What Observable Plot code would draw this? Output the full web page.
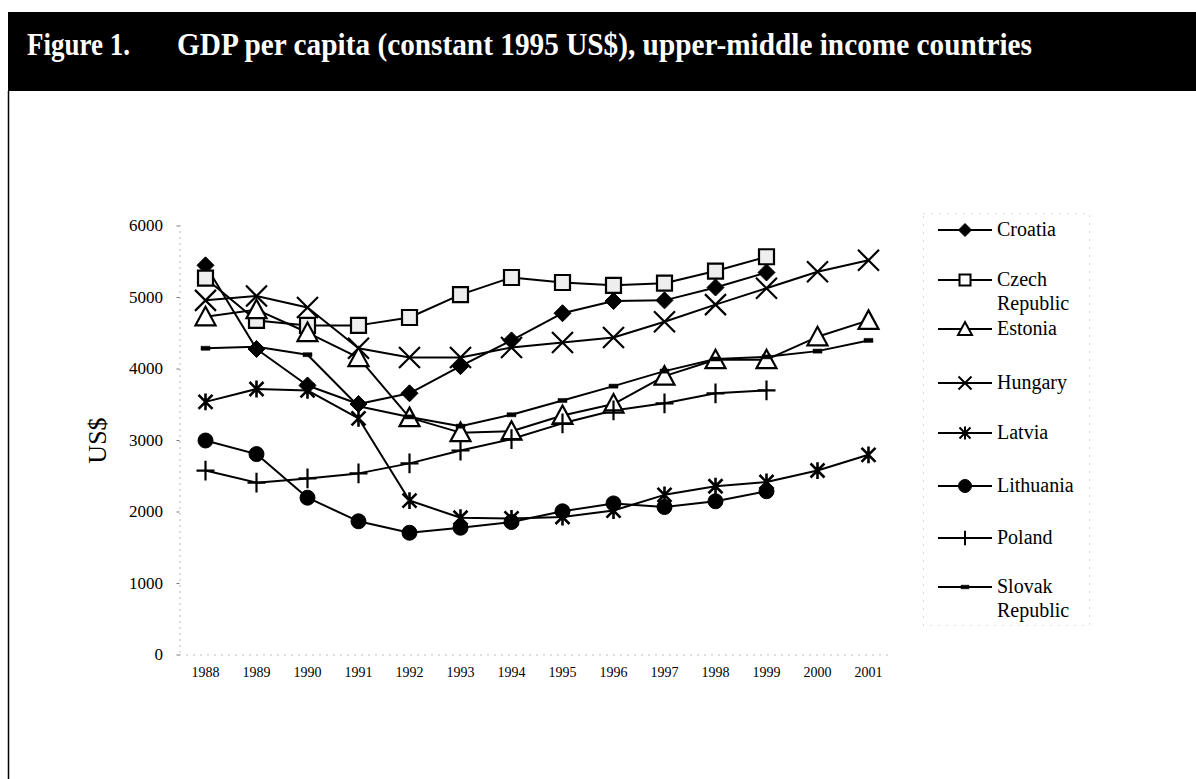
<!DOCTYPE html>
<html><head><meta charset="utf-8">
<script src="https://cdn.jsdelivr.net/npm/d3@7"></script>
<script src="https://cdn.jsdelivr.net/npm/@observablehq/plot@0.6"></script>
<style>
body{margin:0;background:#fff;}
#page{position:relative;width:1196px;height:779px;overflow:hidden;background:#fff;font-family:"Liberation Serif","Times New Roman",serif;}
#page svg{position:absolute;}
</style></head><body><div id="page"></div>
<script>
// ---- data ----
const years = [1988,1989,1990,1991,1992,1993,1994,1995,1996,1997,1998,1999,2000,2001];
const yTicks = [0,1000,2000,3000,4000,5000,6000];
const countries = ["Croatia","Czech Republic","Estonia","Hungary","Latvia","Lithuania","Poland","Slovak Republic"];
const legendLabels = [["Croatia"],["Czech","Republic"],["Estonia"],["Hungary"],["Latvia"],["Lithuania"],["Poland"],["Slovak","Republic"]];
const croatia   = [5450,4280,3770,3510,3660,4040,4400,4780,4950,4960,5140,5350,null,null];
const czech     = [5270,4680,4610,4610,4720,5040,5280,5210,5170,5200,5370,5570,null,null];
const estonia   = [4730,4830,4510,4160,3320,3110,3130,3350,3510,3900,4130,4130,4450,4680];
const hungary   = [4960,5020,4860,4290,4160,4160,4300,4370,4440,4660,4900,5130,5360,5520];
const latvia    = [3540,3720,3700,3310,2160,1920,1910,1930,2020,2240,2360,2420,2580,2800];
const lithuania = [3000,2810,2200,1870,1710,1780,1860,2010,2120,2070,2150,2290,null,null];
const poland    = [2580,2410,2470,2540,2680,2860,3020,3240,3420,3520,3660,3700,null,null];
const slovak    = [4290,4310,4200,3480,3330,3200,3360,3560,3760,3970,4140,4170,4250,4400];
const series = [croatia,czech,estonia,hungary,latvia,lithuania,poland,slovak];

const rows = [];
countries.forEach((c,i)=>series[i].forEach((v,j)=>{ if(v!=null) rows.push({country:c, year:years[j], value:v}); }));

// ---- marker shapes (Excel-like) ----
const R = s => Math.sqrt(s/Math.PI);
const symDiamond = {draw(c,s){const r=R(s);c.moveTo(0,-r);c.lineTo(r,0);c.lineTo(0,r);c.lineTo(-r,0);c.closePath();}};
const symSquare  = {draw(c,s){const r=R(s);c.rect(-r,-r,2*r,2*r);}};
const symTri     = {draw(c,s){const r=R(s);c.moveTo(0,-r);c.lineTo(r,r*0.85);c.lineTo(-r,r*0.85);c.closePath();}};
const symTimes   = {draw(c,s){const r=R(s);c.moveTo(-r,-r);c.lineTo(r,r);c.moveTo(-r,r);c.lineTo(r,-r);}};
const symAster   = {draw(c,s){const r=R(s);c.moveTo(-r,-r);c.lineTo(r,r);c.moveTo(-r,r);c.lineTo(r,-r);c.moveTo(0,-r*1.2);c.lineTo(0,r*1.2);}};
const symCircle  = {draw(c,s){const r=R(s);c.moveTo(r,0);c.arc(0,0,r,0,2*Math.PI);c.closePath();}};
const symPlus    = {draw(c,s){const r=R(s);c.moveTo(0,-r*1.1);c.lineTo(0,r*1.1);c.moveTo(-r,0);c.lineTo(r,0);}};
const symDash    = {draw(c,s){const r=R(s);c.rect(-r,-r*0.45,2*r,r*0.9);}};

const styles = {
  "Croatia":         {symbol:symDiamond, r:8.5, fill:"black", stroke:"black", strokeWidth:1, lr:6.5},
  "Czech Republic":  {symbol:symSquare,  r:7.5, fill:"#eeeeee", stroke:"black", strokeWidth:2.2, lr:5.5},
  "Estonia":         {symbol:symTri,     r:10,  fill:"white", stroke:"black", strokeWidth:2.2, lr:7},
  "Hungary":         {symbol:symTimes,   r:10.5,fill:"none",  stroke:"black", strokeWidth:2.2, lr:6.5},
  "Latvia":          {symbol:symAster,   r:7,   fill:"none",  stroke:"black", strokeWidth:2.6, lr:5.5},
  "Lithuania":       {symbol:symCircle,  r:7.5, fill:"black", stroke:"black", strokeWidth:1, lr:6.5},
  "Poland":          {symbol:symPlus,    r:9,   fill:"none",  stroke:"black", strokeWidth:2.2, lr:6.5},
  "Slovak Republic": {symbol:symDash,    r:4.5, fill:"black", stroke:"black", strokeWidth:0.5, lr:4}
};

const page = document.getElementById("page");

// ---- title band ----
const head = d3.select(page).append("svg").attr("width",1196).attr("height",779).style("left","0px").style("top","0px");
head.append("rect").attr("x",8).attr("y",12).attr("width",1188).attr("height",79).attr("fill","black");
head.append("line").attr("x1",8.5).attr("x2",8.5).attr("y1",91).attr("y2",779).attr("stroke","black").attr("stroke-width",1.5);
const tfont = {"font-family":"Liberation Serif, Times New Roman, serif","font-weight":"bold","font-size":31,"fill":"white","lengthAdjust":"spacingAndGlyphs"};
const t1 = head.append("text").attr("x",27).attr("y",55).attr("textLength",103).text("Figure 1.");
const t2 = head.append("text").attr("x",177).attr("y",55).attr("textLength",855).text("GDP per capita (constant 1995 US$), upper-middle income countries");
for (const t of [t1,t2]) for (const k in tfont) t.attr(k,tfont[k]);

// ---- chart ----
const marks = [
  Plot.ruleX([1987.5], {stroke:"#777", strokeDasharray:"1,5"}),
  Plot.ruleY([0], {stroke:"#777", strokeDasharray:"1,6"}),
  Plot.axisY({ticks:yTicks, tickSize:3, tickPadding:14, fontSize:17, label:null, stroke:"#777", tickFormat:d=>String(d)}),
  Plot.axisX({ticks:years, tickSize:0, tickPadding:12, fontSize:14, label:null, tickFormat:d=>String(d)}),
  Plot.text(["US$"], {text:d=>d, frameAnchor:"left", textAnchor:"middle", dx:-82, rotate:-90, fontSize:26}),
  Plot.line(rows, {x:"year", y:"value", z:"country", stroke:"black", strokeWidth:2})
];
countries.forEach(c=>{
  const st = styles[c];
  marks.push(Plot.dot(rows.filter(d=>d.country===c), {x:"year", y:"value", symbol:st.symbol, r:st.r, fill:st.fill, stroke:st.stroke, strokeWidth:st.strokeWidth}));
});
const chart = Plot.plot({
  width:1196, height:679,
  marginLeft:179.5, marginRight:302.5, marginTop:125.5, marginBottom:124.5,
  x:{domain:[1987.5,2001.5]},
  y:{domain:[0,6000]},
  style:{fontFamily:"Liberation Serif, Times New Roman, serif", background:"transparent", color:"black", overflow:"visible"},
  marks
});
chart.style.left="0px"; chart.style.top="100px";
page.appendChild(chart);

// ---- legend ----
const leg = d3.select(page).append("svg").attr("width",1196).attr("height",779).style("left","0px").style("top","0px");
leg.append("rect").attr("x",923.5).attr("y",213.5).attr("width",166).attr("height",412)
  .attr("fill","none").attr("stroke","#bbb").attr("stroke-dasharray","1,7");
const legY = [230,280,329,383,433,486,538,587];
countries.forEach((c,i)=>{
  const st = styles[c], y = legY[i];
  const g = leg.append("g");
  g.append("line").attr("x1",938).attr("x2",992).attr("y1",y).attr("y2",y).attr("stroke","black").attr("stroke-width",2);
  const sz = st.lr*st.lr*Math.PI;
  g.append("path").attr("transform",`translate(965,${y})`).attr("d",d3.symbol(st.symbol, sz)())
    .attr("fill",st.fill==="#eeeeee"?"white":st.fill).attr("stroke",st.stroke).attr("stroke-width",Math.min(st.strokeWidth,2));
  legendLabels[i].forEach((ln,k)=>{
    g.append("text").attr("x",997).attr("y",y+6+k*24).attr("font-family","Liberation Serif, Times New Roman, serif")
      .attr("font-size",20).attr("fill","black").text(ln);
  });
});
</script></body></html>
